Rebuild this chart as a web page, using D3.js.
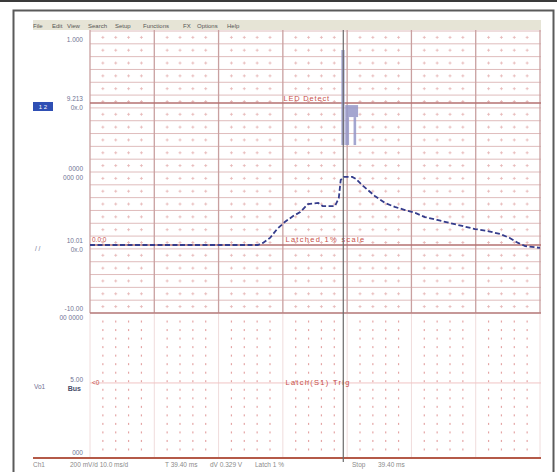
<!DOCTYPE html>
<html>
<head>
<meta charset="utf-8">
<script src="https://cdn.jsdelivr.net/npm/d3@7"></script>
<style>
  body { margin: 0; background: #fff; }
  svg { display: block; font-family: "Liberation Sans", "DejaVu Sans", sans-serif; }
</style>
</head>
<body>
<div id="scope"></div>
<script>
// menu bar words
var menuItems = ["File", "Edit", "View", "Search", "Setup", "Functions", "FX", "Options", "Help"];

// trace 1 (ms, V)
var traceTime = [0, 26.1, 26.9, 28.0, 29.1, 30.3, 31.6, 32.7, 33.9, 35.5, 36.2, 38.1, 38.7, 39.0, 39.5,
  40.8, 41.4, 42.3, 43.2, 44.3, 45.9, 47.4, 49.0, 50.6, 52.1, 54.0, 56.0, 57.9, 59.9, 61.8, 63.8,
  65.3, 66.6, 67.7, 70];
var traceValue = [0, 0, 0.010, 0.034, 0.077, 0.111, 0.140, 0.159, 0.198, 0.203, 0.188, 0.188, 0.227, 0.314, 0.329,
  0.329, 0.319, 0.290, 0.266, 0.237, 0.203, 0.184, 0.169, 0.155, 0.135, 0.121, 0.106, 0.092, 0.077, 0.068, 0.053,
  0.034, 0.010, -0.005, -0.014];

// digital pulse blocks (start ms, end ms, low, high)
var pulseStart = [39.1, 39.7, 39.7, 41.0];
var pulseEnd = [39.6, 41.7, 40.3, 41.4];
var pulseLow = [0.483, 0.618, 0.483, 0.483];
var pulseHigh = [0.942, 0.676, 0.618, 0.618];

// reference levels
var detectLevel = 0.686;
var baseLevel = 0;
var cursorTime = 39.4;

// channel labels on the left
var chanTop = ["1.000", "9.213", "0000", "10.01", "-10.00"];
var chanBottom = ["", "0x.0", "000 00", "0x.0", "00 0000"];
var chanValue = [0.97, 0.686, 0.35, 0.0, -0.33];
var lowerLabels = ["5.00", "Bus", "000"];

// status bar
var statusText = ["Ch1", "200 mV/d  10.0 ms/d", "T 39.40 ms", "dV 0.329 V", "Latch 1 %", "Stop", "39.40 ms"];

var W = 557, H = 472;
var svg = d3.select('#scope').append('svg')
  .attr('width', W).attr('height', H);

var x = d3.scaleLinear().domain([0, 70]).range([90, 540]);
var y = d3.scaleLinear().domain([0, 1]).range([245, 38]);
var rowUp = d3.scaleLinear().domain([0, 22]).range([31, 313]);
var rowLow = d3.scaleLinear().domain([0, 17]).range([313, 458]);

// frame
svg.append('rect').attr('x', 0).attr('y', 0).attr('width', W).attr('height', 2).attr('fill', '#3a3a3a');
svg.append('rect').attr('x', 13.5).attr('y', 10.5).attr('width', 540).attr('height', 470)
  .attr('fill', 'none').attr('stroke', '#5a5a5a').attr('stroke-width', 2);

// menu bar
svg.append('rect').attr('x', 33).attr('y', 20).attr('width', 508).attr('height', 10).attr('fill', '#e6e4d6');
var menuX = [33, 52, 67, 88, 115, 143, 183, 197, 227];
svg.selectAll('.menu').data(menuItems).enter().append('text')
  .attr('x', function (d, i) { return menuX[i]; })
  .attr('y', 27.5)
  .attr('font-size', '6px')
  .attr('fill', '#555')
  .text(function (d) { return d; });

var g = svg.append('g');

// upper panel horizontal grid
g.selectAll('.hrow').data(d3.range(0, 23)).enter().append('line')
  .attr('x1', 90).attr('x2', 541)
  .attr('y1', function (d) { return rowUp(d); })
  .attr('y2', function (d) { return rowUp(d); })
  .attr('stroke', '#dfbcbc').attr('stroke-width', 1);

// minor dots
var minorX = d3.range(0, 36).filter(function (d) { return d % 5 != 0; })
  .map(function (d) { return x(d * 2); });
var upDots = [];
d3.range(0, 22).forEach(function (r) {
  minorX.forEach(function (mx) { upDots.push([mx, (rowUp(r) + rowUp(r + 1)) / 2]); });
});
g.selectAll('.updot').data(upDots).enter().append('path')
  .attr('d', function (d) { return 'M' + (d[0] - 1.5) + ',' + d[1] + 'h3M' + d[0] + ',' + (d[1] - 1.5) + 'v3'; })
  .attr('stroke', '#e6b4b4').attr('stroke-width', 0.8);

var lowDots = [];
d3.range(1, 17).forEach(function (r) {
  minorX.forEach(function (mx) { lowDots.push([mx, rowLow(r)]); });
});
g.selectAll('.lowdot').data(lowDots).enter().append('rect')
  .attr('x', function (d) { return d[0] - 0.6; })
  .attr('y', function (d) { return d[1] - 1; })
  .attr('width', 1.2).attr('height', 2)
  .attr('fill', '#e4a4a4');

// major verticals
var majors = d3.range(0, 71, 10);
g.selectAll('.vmaj').data(majors).enter().append('line')
  .attr('x1', function (d) { return x(d); }).attr('x2', function (d) { return x(d); })
  .attr('y1', 30).attr('y2', 313)
  .attr('stroke', '#c9a0a0').attr('stroke-width', 1.3);
g.selectAll('.vmajlow').data(majors).enter().append('line')
  .attr('x1', function (d) { return x(d); }).attr('x2', function (d) { return x(d); })
  .attr('y1', 313).attr('y2', 458)
  .attr('stroke', '#f0dcdc').attr('stroke-width', 1);

// lower panel centre line
g.append('line').attr('x1', 90).attr('x2', 541)
  .attr('y1', rowLow(8.2)).attr('y2', rowLow(8.2))
  .attr('stroke', '#f0c4c4').attr('stroke-width', 1);

// reference lines
g.append('line').attr('x1', 90).attr('x2', 541).attr('y1', y(detectLevel)).attr('y2', y(detectLevel))
  .attr('stroke', '#b47070').attr('stroke-width', 1.6);
g.append('line').attr('x1', 90).attr('x2', 541).attr('y1', y(baseLevel)).attr('y2', y(baseLevel))
  .attr('stroke', '#b47070').attr('stroke-width', 1.6);
g.append('line').attr('x1', 90).attr('x2', 541).attr('y1', 313).attr('y2', 313)
  .attr('stroke', '#b88080').attr('stroke-width', 1.5);
g.append('line').attr('x1', 33).attr('x2', 541).attr('y1', 458).attr('y2', 458)
  .attr('stroke', '#b45a48').attr('stroke-width', 2);

// red labels
var red = '#c8504a';
g.append('text').attr('x', x(30.1)).attr('y', y(detectLevel) - 2).attr('font-size', '7.5px')
  .attr('letter-spacing', '0.8px').attr('fill', red).text('LED Detect');
g.append('text').attr('x', 92).attr('y', y(baseLevel) - 3).attr('font-size', '6.5px').attr('fill', red).text('0.0:0');
g.append('text').attr('x', x(30.4)).attr('y', y(baseLevel) - 3).attr('font-size', '7.5px')
  .attr('letter-spacing', '1.3px').attr('fill', red).text('Latched 1% scale');
g.append('text').attr('x', 92).attr('y', rowLow(8.2) + 2).attr('font-size', '6.5px').attr('fill', red).text('<0');
g.append('text').attr('x', x(30.4)).attr('y', rowLow(8.2) + 2).attr('font-size', '7.5px')
  .attr('letter-spacing', '1.3px').attr('fill', red).text('Latch(S1) Trig');

// pulse blocks
g.selectAll('.pulse').data(pulseStart).enter().append('rect')
  .attr('x', function (d) { return x(d); })
  .attr('y', function (d, i) { return y(pulseHigh[i]); })
  .attr('width', function (d, i) { return x(pulseEnd[i]) - x(d); })
  .attr('height', function (d, i) { return y(pulseLow[i]) - y(pulseHigh[i]); })
  .attr('fill', '#9496c8').attr('opacity', 0.85);

// cursor
g.append('line').attr('x1', x(cursorTime)).attr('x2', x(cursorTime)).attr('y1', 30).attr('y2', 462)
  .attr('stroke', '#6a6a6a').attr('stroke-width', 1.2);

// trace
var pts = traceTime.map(function (t, i) { return [t, traceValue[i]]; });
var line = d3.line().x(function (d) { return x(d[0]); }).y(function (d) { return y(d[1]); });
g.append('path').datum(pts).attr('d', line)
  .attr('fill', 'none').attr('stroke', '#353c8c').attr('stroke-width', 1.8)
  .attr('stroke-dasharray', '5,2.5');

// left labels
var lab = '#6f7394';
g.selectAll('.ctop').data(chanTop).enter().append('text')
  .attr('x', 83).attr('y', function (d, i) { return y(chanValue[i]) - 2; })
  .attr('text-anchor', 'end').attr('font-size', '6.5px').attr('fill', lab)
  .text(function (d) { return d; });
g.selectAll('.cbot').data(chanBottom).enter().append('text')
  .attr('x', 83).attr('y', function (d, i) { return y(chanValue[i]) + 7; })
  .attr('text-anchor', 'end').attr('font-size', '6.5px').attr('fill', lab)
  .text(function (d) { return d; });
svg.append('rect').attr('x', 33).attr('y', y(detectLevel) - 1).attr('width', 20).attr('height', 9).attr('fill', '#2f4fb4');
svg.append('text').attr('x', 43).attr('y', y(detectLevel) + 6).attr('text-anchor', 'middle')
  .attr('font-size', '6px').attr('fill', '#fff').text('1 2');
svg.append('text').attr('x', 35).attr('y', y(baseLevel) + 6).attr('font-size', '6.5px').attr('fill', lab).text('/ /');
svg.append('text').attr('x', 83).attr('y', rowLow(8.2) - 1).attr('text-anchor', 'end')
  .attr('font-size', '6.5px').attr('fill', lab).text(lowerLabels[0]);
svg.append('text').attr('x', 81).attr('y', rowLow(8.2) + 8).attr('text-anchor', 'end')
  .attr('font-size', '7px').attr('font-weight', 'bold').attr('fill', '#4a4e6a').text(lowerLabels[1]);
svg.append('text').attr('x', 34).attr('y', rowLow(8.2) + 6).attr('font-size', '6.5px').attr('fill', lab).text('Vo1');
svg.append('text').attr('x', 83).attr('y', 455).attr('text-anchor', 'end')
  .attr('font-size', '6.5px').attr('fill', lab).text(lowerLabels[2]);

// status bar
var statusX = [33, 70, 165, 210, 255, 352, 378];
svg.selectAll('.stat').data(statusText).enter().append('text')
  .attr('x', function (d, i) { return statusX[i]; }).attr('y', 467)
  .attr('font-size', '6.5px').attr('fill', '#8a8a8a')
  .text(function (d) { return d; });
</script>
</body>
</html>
